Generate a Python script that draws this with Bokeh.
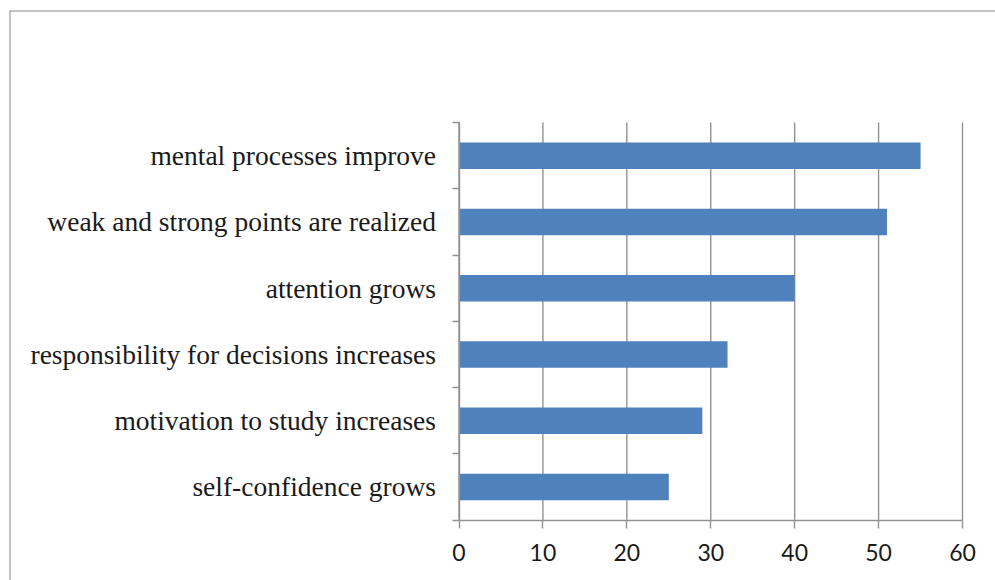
from bokeh.plotting import figure
from bokeh.models import LinearAxis, FixedTicker, Span, Range1d
from bokeh.embed import file_html
from bokeh.resources import INLINE

# ---- data (top to bottom as shown) ----
categories = [
    "mental processes improve",
    "weak and strong points are realized",
    "attention grows",
    "responsibility for decisions increases",
    "motivation to study increases",
    "self-confidence grows",
]
values = [55, 51, 40, 32, 29, 25]
x_ticks = [0, 10, 20, 30, 40, 50, 60]

# ---- layout (pixels inside the figure canvas) ----
W, H = 995, 580
FRAME_L, FRAME_T = 9, 10           # frame offset inside canvas (outer border)
PA_L, PA_R = 458.5, 962            # plot area left/right (canvas px)
PA_T, PA_B = 122, 519.5            # plot area top/bottom (canvas px)

n = len(categories)
xmin, xmax = x_ticks[0], x_ticks[-1]
sx = (PA_R - PA_L) / (xmax - xmin)
sy = (PA_B - PA_T) / n
x_start = xmin - (PA_L - FRAME_L) / sx
x_end = xmin + (W - PA_L) / sx
y_end = n + (PA_T - FRAME_T) / sy
y_start = -(H - PA_B) / sy

p = figure(width=W, height=H, output_backend="svg", toolbar_location=None,
           x_range=Range1d(x_start, x_end), y_range=Range1d(y_start, y_end),
           x_axis_location=None, y_axis_location=None,
           min_border_left=FRAME_L, min_border_top=FRAME_T,
           min_border_right=0, min_border_bottom=0)
p.xgrid.visible = False
p.ygrid.visible = False
p.outline_line_color = None
p.background_fill_color = "white"
p.border_fill_color = "white"

GRID = "#929292"

# vertical gridlines
p.segment(x0=x_ticks, y0=[0] * len(x_ticks), x1=x_ticks, y1=[n] * len(x_ticks),
          line_color=GRID, line_width=1.4)

# bars
ys = [n - i - 0.5 for i in range(n)]
p.hbar(y=ys, left=0, right=values, height=0.4, fill_color="#4F81BD", line_color=None)

# x axis
xaxis = LinearAxis(fixed_location=0, bounds=(xmin, xmax),
                   ticker=FixedTicker(ticks=x_ticks, minor_ticks=[]))
xaxis.axis_line_color = GRID
xaxis.axis_line_width = 1.4
xaxis.major_tick_line_color = GRID
xaxis.major_tick_line_width = 1.4
xaxis.major_tick_out = 8
xaxis.major_tick_in = 0
xaxis.minor_tick_line_color = None
xaxis.major_label_text_font = "Lato"
xaxis.major_label_text_font_size = "23px"
xaxis.major_label_text_color = "#1a1a1a"
xaxis.major_label_standoff = 16
p.add_layout(xaxis, "below")

# y axis
yaxis = LinearAxis(fixed_location=0, bounds=(0, n),
                   ticker=FixedTicker(ticks=ys, minor_ticks=list(range(n + 1))))
yaxis.major_label_overrides = {y: c for y, c in zip(ys, categories)}
yaxis.axis_line_color = GRID
yaxis.axis_line_width = 1.4
yaxis.major_tick_line_color = None
yaxis.minor_tick_line_color = GRID
yaxis.minor_tick_line_width = 1.4
yaxis.minor_tick_out = 7
yaxis.minor_tick_in = 0
yaxis.major_label_text_font = "Liberation Serif"
yaxis.major_label_text_font_size = "27.5px"
yaxis.major_label_text_color = "#1a1a1a"
yaxis.major_label_standoff = 16
p.add_layout(yaxis, "left")

# outer chart border (top and left edges)
p.add_layout(Span(location=x_start, dimension="height", line_color="#888888", line_width=2))
p.add_layout(Span(location=y_end, dimension="width", line_color="#888888", line_width=2))

open("out.html", "w").write(file_html(p, INLINE))
